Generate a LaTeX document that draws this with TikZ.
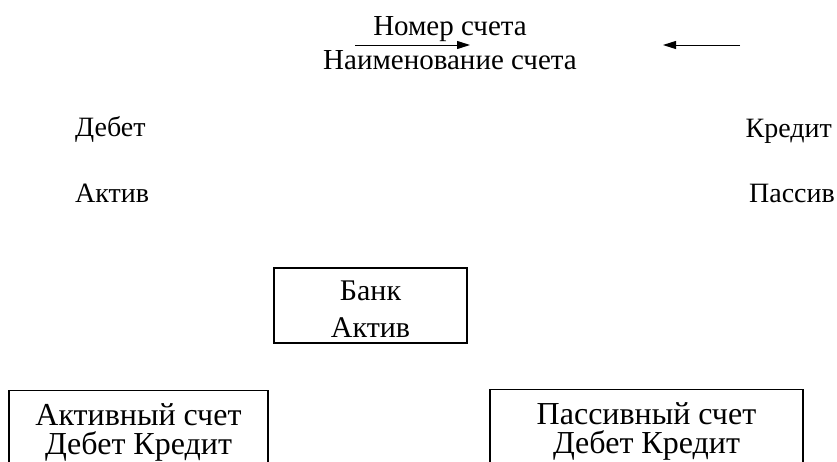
\documentclass[tikz,border=0pt]{standalone}
\usepackage{fontspec}
\setmainfont{Liberation Serif}
\usetikzlibrary{arrows.meta}
\begin{document}
\begin{tikzpicture}[x=1pt,y=-1pt,
  lbl/.style={font=\fontsize{28}{34}\selectfont, inner sep=0pt},
  box/.style={draw, line width=1.3pt, align=center, inner xsep=0pt},
  arr/.style={-{Triangle[length=13pt,width=8pt]}, line width=1pt}]
\path[use as bounding box] (0,0) rectangle (837,461);
\clip (0,0) rectangle (837,461);
% title
\node[lbl, font=\fontsize{29}{33.5}\selectfont, align=center, anchor=north] (title) at (450,16.4) {Номер счета\\Наименование счета};
% arrows
\coordinate (a1s) at (355,45);
\coordinate (a1e) at (470,45);
\coordinate (a2s) at (740,45);
\coordinate (a2e) at (663,45);
\draw[arr] (a1s) -- (a1e);
\draw[arr] (a2s) -- (a2e);
% side labels
\node[lbl, anchor=base west] (debet) at (75,136) {Дебет};
\node[lbl, anchor=base west] (aktiv) at (75,202) {Актив};
\node[lbl, anchor=base east] (kredit) at (832,137) {Кредит};
\node[lbl, anchor=base east] (passiv) at (835,202) {Пассив};
% boxes
\node[box, font=\fontsize{30}{37}\selectfont, minimum width=193pt, minimum height=75pt] (bank) at (370.5,305.5) {\rule{0pt}{26pt}Банк\\Актив};
\node[box, font=\fontsize{32}{29}\selectfont, anchor=north, minimum width=259pt, inner ysep=12.5pt] (act) at (138.5,390) {Активный счет\\Дебет Кредит};
\node[box, font=\fontsize{32}{29}\selectfont, anchor=north, minimum width=313pt, inner ysep=12.5pt] (pas) at (646.5,389) {Пассивный счет\\Дебет Кредит};
\end{tikzpicture}
\end{document}
